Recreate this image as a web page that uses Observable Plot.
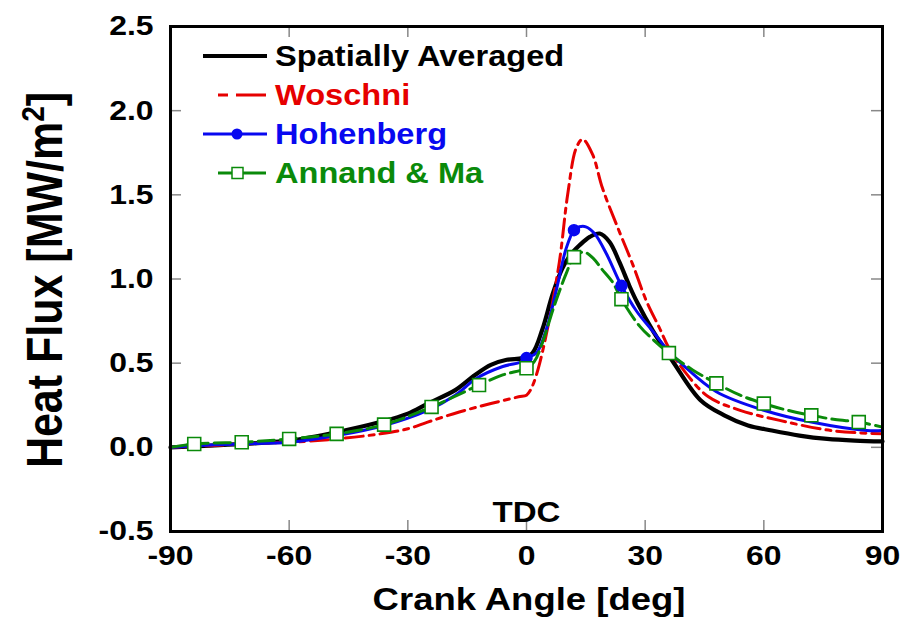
<!DOCTYPE html>
<html><head><meta charset="utf-8">
<script src="https://cdn.jsdelivr.net/npm/d3@7"></script>
<script src="https://cdn.jsdelivr.net/npm/@observablehq/plot@0.6"></script>
<style>body{margin:0;background:#fff}</style>
</head><body><div id="chart"></div>
<script>
// ---- tick labels / categories
const xTicks = [-90, -60, -30, 0, 30, 60, 90];
const yTicks = [-0.5, 0, 0.5, 1, 1.5, 2, 2.5];
const innerXTicks = [-60, -30, 0, 30, 60];
const innerYTicks = [0, 0.5, 1, 1.5, 2];
const seriesNames = ["Spatially Averaged", "Woschni", "Hohenberg", "Annand & Ma"];
const seriesColors = ["#000000", "#e60000", "#0808f0", "#0a8a0a"];
const tdcAngle = [0];
const tdcLabel = ["TDC"];

// ---- series values (crank angle [deg], heat flux [MW/m2])
const avgAngle = [-90,-80,-72,-60,-48,-37,-30,-25,-18,-13,-9,-5,-1,1.5,4,6.6,9,11,13.4,16,18.5,21,23.5,26,28,32,37,44,50,56,62,69,76,83,90];
const avgFlux  = [0.00,0.01,0.02,0.04,0.09,0.15,0.20,0.26,0.34,0.43,0.49,0.52,0.53,0.56,0.70,0.91,1.06,1.14,1.20,1.25,1.27,1.22,1.10,0.96,0.86,0.69,0.51,0.28,0.19,0.13,0.10,0.07,0.05,0.04,0.035];

const woschniAngle = [-90,-80,-72,-60,-48,-37,-30,-25,-17,-9,-2,0,1,2.5,5,8.3,10.4,12.6,14.2,16.7,19.2,23.5,26.8,30.3,33.6,36,40,46,54,64,77,90];
const woschniFlux  = [0.00,0.01,0.02,0.03,0.05,0.08,0.11,0.15,0.21,0.26,0.30,0.31,0.34,0.43,0.67,1.10,1.50,1.78,1.83,1.74,1.54,1.28,1.09,0.87,0.71,0.59,0.45,0.30,0.22,0.16,0.10,0.08];

const hohAngle = [-90,-84,-72,-60,-48,-36,-25,-18,-12.6,-6,-1,0,2.5,5,7.6,10,12,13.4,15,17.2,20.2,24,27.8,31.9,36,39.5,48,60,72,86,90];
const hohFlux  = [0.00,0.01,0.02,0.03,0.07,0.13,0.22,0.31,0.41,0.48,0.51,0.53,0.56,0.70,0.94,1.18,1.29,1.31,1.31,1.27,1.15,0.96,0.81,0.69,0.57,0.49,0.33,0.22,0.15,0.10,0.10];
const hohMarkerAngles = [0, 12, 24];

const annAngle = [-90,-84,-72,-60,-48,-36,-24,-12,-6,0,2,4,7,10,12,14.5,17,19,21.8,24,28.6,32,36,42,48,54,60,66,72,78,84,90];
const annFlux  = [0.00,0.02,0.03,0.05,0.08,0.135,0.24,0.37,0.43,0.47,0.51,0.62,0.84,1.03,1.13,1.16,1.12,1.06,0.98,0.88,0.72,0.64,0.56,0.46,0.38,0.31,0.26,0.22,0.19,0.165,0.15,0.12];
const annMarkerAngles = [-84,-72,-60,-48,-36,-24,-12,0,12,24,36,48,60,72,84];

// ---- tables
const toRows = (a, v) => a.map((x, i) => ({angle: x, flux: v[i]}));
const avg = toRows(avgAngle, avgFlux);
const wos = toRows(woschniAngle, woschniFlux);
const hoh = toRows(hohAngle, hohFlux);
const ann = toRows(annAngle, annFlux);
const hohMarks = hoh.filter(d => hohMarkerAngles.includes(d.angle));
const annMarks = ann.filter(d => annMarkerAngles.includes(d.angle));
const tdc = tdcAngle.map((a, i) => ({angle: a, label: tdcLabel[i]}));

// ---- layout
const W = 906, H = 619, mL = 170, mR = 24, mT = 26, mB = 88;
const innerW = W - mL - mR, innerH = H - mT - mB, tickLen = 11;
const FONT = "'Liberation Sans', Arial, Helvetica, sans-serif";
const tickStyle = {stroke: "#888", strokeWidth: 1.5};

const plot = Plot.plot({
  width: W, height: H,
  marginLeft: mL, marginRight: mR, marginTop: mT, marginBottom: mB,
  style: {fontFamily: FONT, fontWeight: "bold", background: "#fff", color: "#000"},
  x: {domain: [-90, 90]},
  y: {domain: [-0.5, 2.5]},
  marks: [
    Plot.tickX(innerXTicks, {x: d => d, ...tickStyle, insetTop: innerH - tickLen}),
    Plot.tickX(innerXTicks, {x: d => d, ...tickStyle, insetBottom: innerH - tickLen}),
    Plot.tickY(innerYTicks, {y: d => d, ...tickStyle, insetRight: innerW - tickLen}),
    Plot.tickY(innerYTicks, {y: d => d, ...tickStyle, insetLeft: innerW - tickLen}),
    Plot.text(tdc, {x: "angle", text: "label", frameAnchor: "bottom", lineAnchor: "bottom", dy: -10, fontSize: 29, fontWeight: "bold", fill: "#000"}),
    Plot.line(avg, {x: "angle", y: "flux", stroke: seriesColors[0], strokeWidth: 4.2, curve: "catmull-rom"}),
    Plot.line(wos, {x: "angle", y: "flux", stroke: seriesColors[1], strokeWidth: 3, strokeDasharray: "18,6,5,6", curve: "catmull-rom"}),
    Plot.line(hoh, {x: "angle", y: "flux", stroke: seriesColors[2], strokeWidth: 3, curve: "catmull-rom"}),
    Plot.line(ann, {x: "angle", y: "flux", stroke: seriesColors[3], strokeWidth: 3, strokeDasharray: "16,6", curve: "catmull-rom"}),
    Plot.dot(hohMarks, {x: "angle", y: "flux", r: 5.5, fill: seriesColors[2], stroke: seriesColors[2]}),
    Plot.dot(annMarks, {x: "angle", y: "flux", symbol: "square", r: 7.3, fill: "#fff", stroke: seriesColors[3], strokeWidth: 1.6}),
    Plot.axisX(xTicks, {tickSize: 0, tickPadding: 14, fontSize: 28, fontWeight: "bold", label: null, tickFormat: d => String(d)}),
    Plot.axisY(yTicks, {tickSize: 0, tickPadding: 17, fontSize: 28, fontWeight: "bold", label: null, tickFormat: d => d.toFixed(1)}),
    Plot.frame({stroke: "#000", strokeWidth: 3})
  ]
});
document.getElementById("chart").append(plot);

const svg = d3.select(plot);

// ---- legend (inside, top-left)
const rowY = [56, 95, 134, 173];
const lg = svg.append("g").attr("font-family", FONT).attr("font-weight", "bold").attr("font-size", 28.6).attr("text-anchor", "start");
lg.append("line").attr("x1", 203).attr("x2", 267).attr("y1", rowY[0]).attr("y2", rowY[0]).attr("stroke", seriesColors[0]).attr("stroke-width", 4);
lg.append("line").attr("x1", 218).attr("x2", 266).attr("y1", rowY[1]).attr("y2", rowY[1]).attr("stroke", seriesColors[1]).attr("stroke-width", 3).attr("stroke-dasharray", "10,8,30");
lg.append("line").attr("x1", 203).attr("x2", 267).attr("y1", rowY[2]).attr("y2", rowY[2]).attr("stroke", seriesColors[2]).attr("stroke-width", 3);
lg.append("circle").attr("cx", 237).attr("cy", rowY[2]).attr("r", 5.5).attr("fill", seriesColors[2]);
lg.append("line").attr("x1", 218).attr("x2", 266).attr("y1", rowY[3]).attr("y2", rowY[3]).attr("stroke", seriesColors[3]).attr("stroke-width", 3);
lg.append("rect").attr("x", 232).attr("y", rowY[3] - 5.5).attr("width", 11).attr("height", 11).attr("fill", "#fff").attr("stroke", seriesColors[3]).attr("stroke-width", 1.5);
seriesNames.forEach((name, i) => {
  lg.append("text").attr("x", 275).attr("y", rowY[i] + 10).attr("text-anchor", "start").attr("fill", seriesColors[i]).text(name);
});

// ---- x axis title
svg.append("text").attr("x", 529).attr("y", 610).attr("text-anchor", "middle")
  .attr("font-family", FONT).attr("font-weight", "bold").attr("font-size", 32).attr("fill", "#000")
  .text("Crank Angle [deg]");

// ---- horizontal stretch of glyphs (reference is widened ~1.14x)
const K = 1.14;
plot.querySelectorAll("text").forEach(t => {
  const w = t.getComputedTextLength();
  if (w > 0) {
    t.setAttribute("textLength", (w * K).toFixed(2));
    t.setAttribute("lengthAdjust", "spacingAndGlyphs");
  }
});

// ---- y axis title (rotated, with superscript)
const yt = svg.append("text")
  .attr("transform", `translate(62,280) scale(${K},1) rotate(-90)`)
  .attr("text-anchor", "middle")
  .attr("font-family", FONT).attr("font-weight", "bold").attr("font-size", 43).attr("fill", "#000");
yt.append("tspan").text("Heat Flux [MW/m");
yt.append("tspan").attr("font-size", 28).attr("dy", "-16").text("2");
yt.append("tspan").attr("dy", "16").text("]");
</script>
</body></html>
